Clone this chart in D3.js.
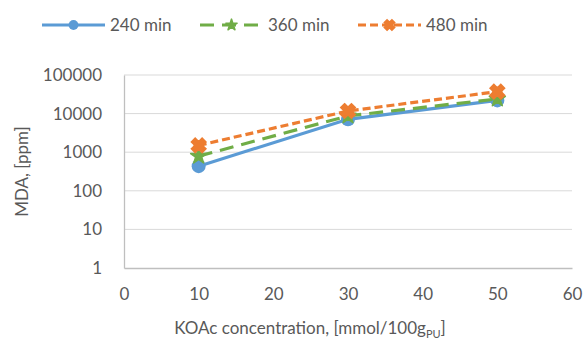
<!DOCTYPE html>
<html>
<head>
<meta charset="utf-8">
<script src="https://cdn.jsdelivr.net/npm/d3@7"></script>
<style>
  html, body { margin: 0; padding: 0; background: #fff; }
  svg { display: block; font-family: "Lato", "Open Sans", sans-serif; }
</style>
</head>
<body>
<svg id="chart" width="588" height="340"></svg>
<script>
// KOAc concentration (mmol/100g PU) and MDA content (ppm) by reaction time
const concentrations = [10, 30, 50];
const mda240 = [435, 7100, 22000];
const mda360 = [790, 8700, 24000];
const mda480 = [1500, 11700, 37000];
const seriesNames = ["240 min", "360 min", "480 min"];
const xTicks = [0, 10, 20, 30, 40, 50, 60];
const yTicks = [1, 10, 100, 1000, 10000, 100000];

const colors = ["#5b9bd5", "#70ad47", "#ed7d31"];
const dashes = [null, "14 8", "8 4"];
const markers = ["circle", "star", "x"];

const svg = d3.select("#chart");
const margin = { left: 124, right: 16, top: 75, bottom: 72 };
const W = 588, H = 340;
const fontSize = "17px";

const x = d3.scaleLinear().domain([0, 60]).range([margin.left, W - margin.right]);
const y = d3.scaleLog().domain([1, 100000]).range([H - margin.bottom, margin.top]);

const textColor = "#595959";
const gridColor = "#d9d9d9";

// horizontal gridlines
svg.append("g")
  .selectAll("line")
  .data(yTicks.slice(1))
  .join("line")
  .attr("x1", x(0)).attr("x2", x(60))
  .attr("y1", d => y(d)).attr("y2", d => y(d))
  .attr("stroke", gridColor).attr("stroke-width", 1);

// axes
const xAxis = svg.append("g")
  .attr("transform", `translate(0,${y(1)})`)
  .call(d3.axisBottom(x).tickValues(xTicks).tickSize(0).tickPadding(20));
const yAxis = svg.append("g")
  .attr("transform", `translate(${x(0)},0)`)
  .call(d3.axisLeft(y).tickValues(yTicks).tickFormat(d3.format("d")).tickSize(0).tickPadding(22));
[xAxis, yAxis].forEach(a => {
  a.select(".domain").attr("stroke", "#bfbfbf").attr("stroke-width", 1.3);
  a.selectAll("text").attr("fill", textColor).style("font-size", fontSize)
    .style("font-family", "Lato, 'Open Sans', sans-serif");
});

// axis titles
const xt = svg.append("text")
  .attr("x", 310).attr("y", 334)
  .attr("text-anchor", "middle")
  .attr("fill", textColor).style("font-size", fontSize);
xt.append("tspan").text("KOAc concentration, [mmol/100g");
xt.append("tspan").attr("dy", 4).style("font-size", "11px").text("PU");
xt.append("tspan").attr("dy", -4).text("]");

svg.append("text")
  .attr("transform", `translate(28,${(y(1) + y(100000)) / 2}) rotate(-90)`)
  .attr("text-anchor", "middle")
  .attr("fill", textColor).style("font-size", fontSize)
  .text("MDA, [ppm]");

const allSeries = [mda240, mda360, mda480];

function drawMarker(g, kind, color, cx, cy, scale) {
  const s = scale || 1;
  if (kind === "circle") {
    g.append("circle").attr("cx", cx).attr("cy", cy).attr("r", 7 * s).attr("fill", color);
  } else if (kind === "star") {
    g.append("path")
      .attr("d", d3.symbol().type(d3.symbolStar).size(80 * s * s)())
      .attr("transform", `translate(${cx},${cy})`)
      .attr("fill", color).attr("stroke", color).attr("stroke-width", 1.5)
      .attr("stroke-linejoin", "round");
  } else {
    g.append("path")
      .attr("d", d3.symbol().type(d3.symbolCross).size(120 * s * s)())
      .attr("transform", `translate(${cx},${cy}) rotate(45)`)
      .attr("fill", color).attr("stroke", color).attr("stroke-width", 2);
    g.append("rect")
      .attr("x", cx - 5 * s).attr("y", cy - 5 * s)
      .attr("width", 10 * s).attr("height", 10 * s)
      .attr("fill", color);
  }
}

const line = d3.line().x(d => x(d[0])).y(d => y(d[1]));

allSeries.forEach((vals, i) => {
  const pts = concentrations.map((c, j) => [c, vals[j]]);
  svg.append("path")
    .datum(pts)
    .attr("d", line)
    .attr("fill", "none")
    .attr("stroke", colors[i])
    .attr("stroke-width", 3.2)
    .attr("stroke-dasharray", dashes[i])
    .attr("stroke-linecap", "butt");
  const g = svg.append("g");
  pts.forEach(p => drawMarker(g, markers[i], colors[i], x(p[0]), y(p[1]), 1));
});

// legend
const legendX = [42, 200, 358];
const legendY = 25;
seriesNames.forEach((name, i) => {
  const g = svg.append("g");
  const x0 = legendX[i];
  g.append("line")
    .attr("x1", x0).attr("x2", x0 + 63)
    .attr("y1", legendY).attr("y2", legendY)
    .attr("stroke", colors[i]).attr("stroke-width", 3)
    .attr("stroke-dasharray", dashes[i]);
  drawMarker(g, markers[i], colors[i], x0 + 31.5, legendY, 0.7);
  g.append("text")
    .attr("x", x0 + 68).attr("y", legendY + 6)
    .attr("fill", textColor).style("font-size", fontSize)
    .text(name);
});
</script>
</body>
</html>
